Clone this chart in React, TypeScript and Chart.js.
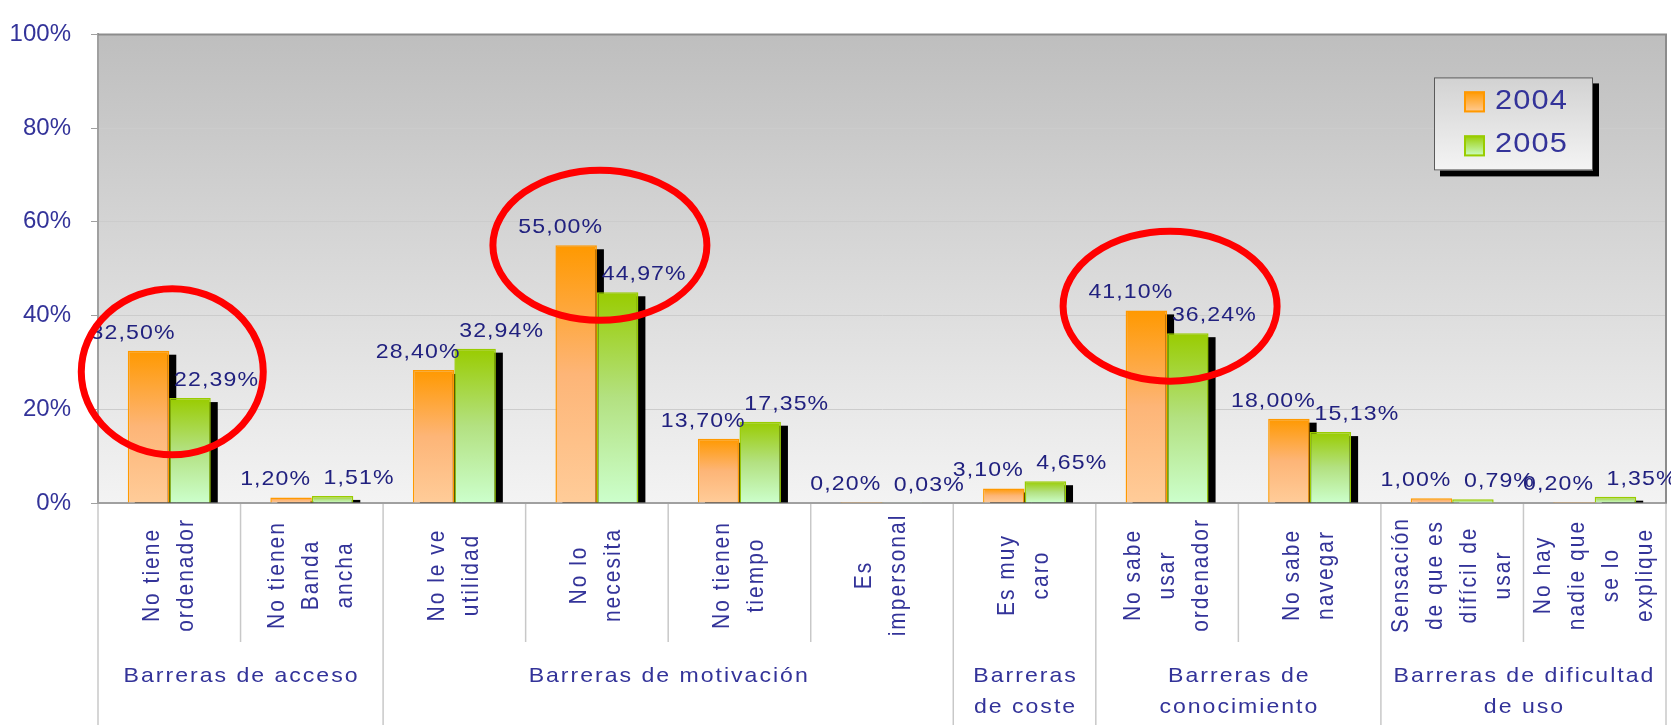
import React, { useEffect, useRef } from 'react';
import { Chart, registerables } from 'chart.js';

Chart.register(...registerables);

// ---------- data ----------
const categories: string[][] = [
  ['No tiene', 'ordenador'],
  ['No tienen', 'Banda', 'ancha'],
  ['No le ve', 'utilidad'],
  ['No lo', 'necesita'],
  ['No tienen', 'tiempo'],
  ['Es', 'impersonal'],
  ['Es muy', 'caro'],
  ['No sabe', 'usar', 'ordenador'],
  ['No sabe', 'navegar'],
  ['Sensación', 'de que es', 'difícil de', 'usar'],
  ['No hay', 'nadie que', 'se lo', 'explique'],
];

const groupLabels: string[][] = [
  ['Barreras de acceso'],
  ['Barreras de motivación'],
  ['Barreras', 'de coste'],
  ['Barreras de', 'conocimiento'],
  ['Barreras de dificultad', 'de uso'],
];
const groupSizes = [2, 4, 1, 2, 2];

const seriesNames = ['2004', '2005'];
const values2004 = [32.5, 1.2, 28.4, 55.0, 13.7, 0.2, 3.1, 41.1, 18.0, 1.0, 0.2];
const values2005 = [22.39, 1.51, 32.94, 44.97, 17.35, 0.03, 4.65, 36.24, 15.13, 0.79, 1.35];

const yMin = 0;
const yMax = 100;
const yStep = 20;

// categories circled in red, and the value level each circle is centred on
const highlighted = [0, 3, 7];
const highlightLevel = [28, 55, 42];

// ---------- styles ----------
const FONT = '"Liberation Sans", Arial, sans-serif';
const TEXT = '#333399';
const LABEL = '#21217f';
const ORANGE = ['#FF9900', '#FDB577', '#FFCC99'];
const GREEN = ['#99CC00', '#B3E181', '#CCFFCC'];
const ellipseRx = [91, 107, 107];
const ellipseRy = [83, 75, 75];

function drawText(
  ctx: CanvasRenderingContext2D,
  text: string,
  x: number,
  y: number,
  o: { size: number; color: string; align?: CanvasTextAlign; baseline?: CanvasTextBaseline; spacing?: number; stretch?: number; rotate?: number }
) {
  ctx.save();
  ctx.translate(x, y);
  ctx.scale(o.stretch ?? 1, 1);
  if (o.rotate) ctx.rotate(o.rotate);
  ctx.font = `${o.size}px ${FONT}`;
  ctx.fillStyle = o.color;
  ctx.textAlign = o.align ?? 'center';
  ctx.textBaseline = o.baseline ?? 'alphabetic';
  const sp = o.spacing ?? 0;
  (ctx as any).letterSpacing = `${sp}px`;
  const dx = ctx.textAlign === 'center' ? sp / 2 : 0;
  ctx.fillText(text, dx, 0);
  ctx.restore();
}

function barGradient(stops: string[]) {
  return (c: any) => {
    const chart = c.chart;
    const ys = chart.scales?.y;
    if (!ys || c.type !== 'data' || typeof c.raw !== 'number') return stops[0];
    const y0 = ys.getPixelForValue(c.raw);
    const y1 = ys.getPixelForValue(0);
    if (!isFinite(y0) || !isFinite(y1) || y1 - y0 < 0.5) return stops[2];
    const g = chart.ctx.createLinearGradient(0, y0, 0, y1);
    g.addColorStop(0, stops[0]);
    g.addColorStop(0.5, stops[1]);
    g.addColorStop(1, stops[2]);
    return g;
  };
}

const fmt = (v: number) => v.toFixed(2).replace('.', ',') + '%';

const decorPlugin = {
  id: 'decor',
  beforeDraw(chart: any) {
    const { ctx, chartArea: a } = chart;
    if (!a) return;
    ctx.save();
    const g = ctx.createLinearGradient(0, a.top, 0, a.bottom);
    g.addColorStop(0, '#BEBEBE');
    g.addColorStop(0.5, '#D9D9D9');
    g.addColorStop(1, '#F3F3F3');
    ctx.fillStyle = g;
    ctx.fillRect(a.left, a.top, a.right - a.left, a.bottom - a.top);
    ctx.restore();
  },
  beforeDatasetsDraw(chart: any) {
    const { ctx } = chart;
    ctx.save();
    ctx.fillStyle = '#000000';
    chart.data.datasets.forEach((_: any, d: number) => {
      const meta = chart.getDatasetMeta(d);
      meta.data.forEach((bar: any) => {
        const { x, y, base, width } = bar.getProps(['x', 'y', 'base', 'width'], true);
        const top = y + 4;
        const h = base - top;
        if (h > 0) ctx.fillRect(x - width / 2 + 7, top, width, h);
      });
    });
    ctx.restore();
  },
  afterDraw(chart: any) {
    const { ctx, chartArea: a, scales } = chart;
    const xs = scales.x;
    const ys = scales.y;
    const H = chart.height;

    // frame top/right
    ctx.save();
    ctx.strokeStyle = '#8C8C8C';
    ctx.lineWidth = 2;
    ctx.beginPath();
    ctx.moveTo(a.left, a.top);
    ctx.lineTo(a.right, a.top);
    ctx.lineTo(a.right, a.bottom);
    ctx.stroke();
    ctx.restore();

    // category dividers
    const n = categories.length;
    const bounds: number[] = [];
    for (let i = 0; i <= n; i++) {
      if (i === 0) bounds.push(a.left);
      else if (i === n) bounds.push(a.right);
      else bounds.push((xs.getPixelForValue(i - 1) + xs.getPixelForValue(i)) / 2);
    }
    const groupEdges = new Set<number>([0]);
    let acc = 0;
    groupSizes.forEach((s) => { acc += s; groupEdges.add(acc); });
    ctx.save();
    ctx.strokeStyle = '#C8C8C8';
    ctx.lineWidth = 1.5;
    bounds.forEach((bx, i) => {
      ctx.beginPath();
      ctx.moveTo(bx, a.bottom + 1);
      ctx.lineTo(bx, groupEdges.has(i) ? H : a.bottom + 139);
      ctx.stroke();
    });
    ctx.restore();

    // rotated category labels
    categories.forEach((lines, i) => {
      const cx = xs.getPixelForValue(i);
      const L = 34;
      lines.forEach((line, k) => {
        const lx = cx + (k - (lines.length - 1) / 2) * L;
        drawText(ctx, line, lx, a.bottom + 73, {
          size: 21, color: TEXT, baseline: 'middle', spacing: 2, stretch: 1.12, rotate: -Math.PI / 2,
        });
      });
    });

    // group labels
    let start = 0;
    groupSizes.forEach((s, gi) => {
      const cx = (bounds[start] + bounds[start + s]) / 2;
      groupLabels[gi].forEach((line, k) => {
        drawText(ctx, line, cx, a.bottom + 173 + k * 31, {
          size: 21, color: TEXT, baseline: 'middle', spacing: 1.8, stretch: 1.1,
        });
      });
      start += s;
    });

    // data labels
    chart.data.datasets.forEach((ds: any, d: number) => {
      const meta = chart.getDatasetMeta(d);
      meta.data.forEach((bar: any, i: number) => {
        const { x, y } = bar.getProps(['x', 'y'], true);
        drawText(ctx, fmt(ds.data[i]), x + (d === 0 ? -16 : 26), y - 12, {
          size: 21, color: LABEL, spacing: 1, stretch: 1.1,
        });
      });
    });

    // legend
    const bw = 159, bh = 93;
    const bx = a.right - 232, by = a.top + 43;
    ctx.save();
    ctx.fillStyle = '#000000';
    ctx.fillRect(bx + 6, by + 6, bw, bh);
    const lg = ctx.createLinearGradient(0, by, 0, by + bh);
    lg.addColorStop(0, '#D2D2D2');
    lg.addColorStop(1, '#F4F4F4');
    ctx.fillStyle = lg;
    ctx.fillRect(bx, by, bw, bh);
    ctx.strokeStyle = '#5A5A5A';
    ctx.lineWidth = 1;
    ctx.strokeRect(bx + 0.5, by + 0.5, bw - 1, bh - 1);
    ctx.restore();
    [ORANGE, GREEN].forEach((stops, d) => {
      const sy = by + 14 + d * 44;
      const sx = bx + 30;
      ctx.save();
      const sg = ctx.createLinearGradient(0, sy, 0, sy + 21);
      sg.addColorStop(0, stops[0]);
      sg.addColorStop(1, stops[2]);
      ctx.fillStyle = sg;
      ctx.fillRect(sx, sy, 21, 21);
      ctx.strokeStyle = stops[0];
      ctx.lineWidth = 2;
      ctx.strokeRect(sx + 1, sy + 1, 19, 19);
      ctx.restore();
      drawText(ctx, chart.data.datasets[d].label, bx + 61, by + 32 + d * 43, {
        size: 28, color: TEXT, align: 'left', spacing: 1, stretch: 1.1,
      });
    });

    // red ellipses
    ctx.save();
    ctx.strokeStyle = '#FF0000';
    ctx.lineWidth = 7;
    highlighted.forEach((ci, k) => {
      const cx = xs.getPixelForValue(ci) + 3;
      const cy = ys.getPixelForValue(highlightLevel[k]);
      ctx.beginPath();
      ctx.ellipse(cx, cy, ellipseRx[k], ellipseRy[k], 0, 0, Math.PI * 2);
      ctx.stroke();
    });
    ctx.restore();
  },
};

export default function App() {
  const ref = useRef<HTMLCanvasElement | null>(null);

  useEffect(() => {
    if (!ref.current) return;
    const chart = new Chart(ref.current, {
      type: 'bar',
      data: {
        labels: categories.map((c) => c.join(' ')),
        datasets: [
          {
            label: seriesNames[0],
            data: values2004,
            backgroundColor: barGradient(ORANGE),
            borderColor: ORANGE[0],
            borderWidth: 1.5,
            categoryPercentage: 0.582,
            barPercentage: 1,
          },
          {
            label: seriesNames[1],
            data: values2005,
            backgroundColor: barGradient(GREEN),
            borderColor: GREEN[0],
            borderWidth: 1.5,
            categoryPercentage: 0.582,
            barPercentage: 1,
          },
        ],
      },
      options: {
        animation: false,
        responsive: true,
        maintainAspectRatio: false,
        layout: { padding: { top: 19, right: 5, left: 0, bottom: 0 } },
        plugins: {
          legend: { display: false },
          tooltip: { enabled: false },
        },
        scales: {
          x: {
            type: 'category',
            grid: { display: false },
            ticks: { display: false },
            border: { display: true, color: '#A0A0A0', width: 2 },
            afterFit: (s: any) => { s.height = 222; },
          },
          y: {
            min: yMin,
            max: yMax,
            ticks: {
              stepSize: yStep,
              padding: 20,
              color: TEXT,
              font: { family: FONT, size: 24 },
              callback: (v: any) => `${v}%`,
            },
            grid: { color: '#CCCCCC', lineWidth: 1, tickColor: '#A0A0A0', tickLength: 7 },
            border: { display: true, color: '#A0A0A0', width: 2 },
            afterFit: (s: any) => { s.width = 98; },
          },
        },
      },
      plugins: [decorPlugin],
    });
    return () => chart.destroy();
  }, []);

  return (
    <div style={{ position: 'absolute', left: 0, top: 0, width: '1671px', height: '725px' }}>
      <canvas ref={ref} />
    </div>
  );
}
